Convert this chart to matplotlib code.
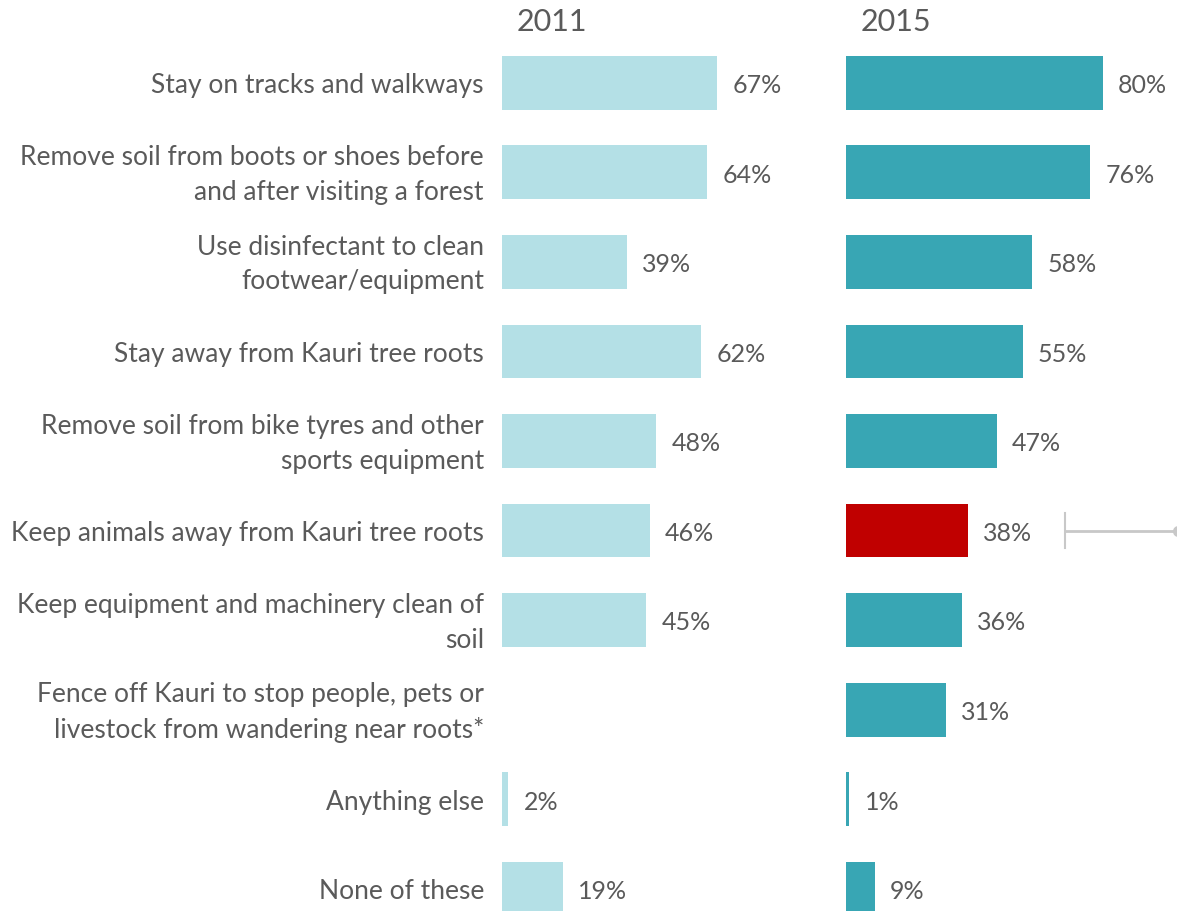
import matplotlib.pyplot as plt

plt.rcParams['font.family'] = ['Lato', 'DejaVu Sans']

categories = [
    "Stay on tracks and walkways",
    "Remove soil from boots or shoes before\nand after visiting a forest",
    "Use disinfectant to clean\nfootwear/equipment",
    "Stay away from Kauri tree roots",
    "Remove soil from bike tyres and other\nsports equipment",
    "Keep animals away from Kauri tree roots",
    "Keep equipment and machinery clean of\nsoil",
    "Fence off Kauri to stop people, pets or\nlivestock from wandering near roots*",
    "Anything else",
    "None of these",
]
vals_2011 = [67, 64, 39, 62, 48, 46, 45, None, 2, 19]
vals_2015 = [80, 76, 58, 55, 47, 38, 36, 31, 1, 9]
years = ["2011", "2015"]

light = "#b4e0e6"
teal = "#38a6b4"
red = "#c00000"
grey = "#5a5a5a"

W, H = 1177, 911
fig = plt.figure(figsize=(W / 100, H / 100), dpi=100)

px_per_pct = 3.21
row_h = 89.56
top = 38


def make_ax(x0, x1):
    ax = fig.add_axes([x0 / W, 0, (x1 - x0) / W, (H - top) / H])
    ax.set_xlim(0, (x1 - x0) / px_per_pct)
    ax.set_ylim(-0.5 + (H - top) / row_h, -0.5)
    ax.axis("off")
    return ax


ax1 = make_ax(502, 846)
ax2 = make_ax(846, 1177)

for ax, vals, col, yr in [(ax1, vals_2011, light, years[0]),
                          (ax2, vals_2015, teal, years[1])]:
    for i, v in enumerate(vals):
        if v is None:
            continue
        c = red if (ax is ax2 and i == 5) else col
        ax.barh(i, v, height=0.6, color=c, clip_on=True)
        ax.annotate(f"{v}%", (v, i), xytext=(11, -2), textcoords="offset points",
                    va="center", ha="left", fontsize=18, color=grey)
    ax.text(15 / (ax.get_position().width * W), 1.0 + 16 / (H - top), yr,
            transform=ax.transAxes, fontsize=22, color=grey, ha="left",
            va="center")

for i, lab in enumerate(categories):
    ax1.annotate(lab, (0, i), xytext=(-13, -2), textcoords="offset points",
                 ha="right", va="center", fontsize=19, color=grey,
                 linespacing=1.48, annotation_clip=False)

# callout line next to the highlighted bar
ax2.plot([68.2, 103.5], [5, 5], color="#c8c8c8", lw=2, clip_on=False)
ax2.plot([68.2, 68.2], [4.8, 5.2], color="#c8c8c8", lw=1.5, clip_on=False)
ax2.plot([103.3], [5], marker="o", ms=7, color="#c8c8c8", clip_on=False)

fig.savefig("out.png", dpi=100)
